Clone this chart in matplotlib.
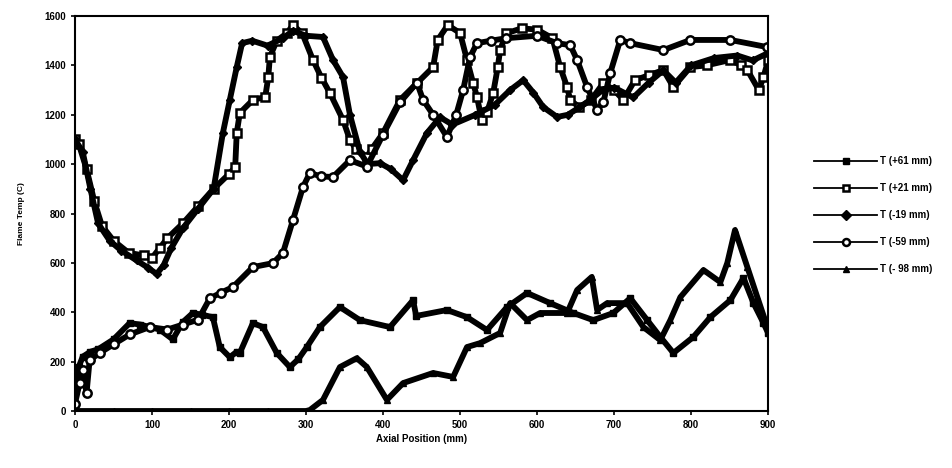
import matplotlib
matplotlib.use("Agg")
import matplotlib.pyplot as plt

plt.rcParams['font.family'] = ['Liberation Sans', 'DejaVu Sans']
plt.rcParams['font.weight'] = 'bold'

# T (+61 mm), filled squares
x_p61 = [0, 5, 10, 20, 30, 50, 71, 85, 97, 110, 127, 140, 153, 165, 179, 188, 201, 210, 214,
         231, 244, 262, 279, 290, 301, 318, 344, 370, 409, 439, 443, 483, 509, 535, 561, 587,
         617, 647, 673, 699, 721, 743, 760, 777, 803, 825, 851, 868, 881, 894, 900]
y_p61 = [100, 180, 220, 240, 250, 290, 356, 350, 340, 330, 290, 360, 397, 390, 380, 259, 218, 240, 235,
         356, 340, 235, 178, 210, 259, 340, 421, 368, 340, 449, 385, 409, 380, 328, 421, 478,
         437, 397, 368, 397, 457, 368, 300, 235, 300, 380, 449, 539, 437, 356, 316]

# T (+21 mm), open squares
x_p21 = [0, 5, 15, 25, 35, 50, 70, 90, 100, 110, 120, 140, 160, 180, 200, 208, 210, 214, 231, 247,
         251, 253, 262, 275, 283, 295, 309, 320, 331, 348, 357, 365, 379, 385, 400, 422, 444, 465,
         471, 484, 500, 509, 517, 522, 528, 535, 543, 549, 552, 560, 580, 600, 620, 630, 639, 643,
         655, 670, 686, 700, 712, 727, 745, 764, 777, 799, 820, 851, 865, 873, 888, 894, 900]
y_p21 = [1100, 1080, 980, 850, 750, 690, 640, 630, 620, 660, 700, 760, 830, 900, 960, 988, 1126, 1207, 1260, 1272,
         1353, 1434, 1500, 1530, 1563, 1530, 1422, 1350, 1288, 1179, 1098, 1060, 1029, 1060, 1126, 1260, 1328, 1393,
         1503, 1563, 1531, 1422, 1328, 1272, 1180, 1210, 1288, 1393, 1462, 1530, 1550, 1545, 1510, 1393, 1312, 1260,
         1230, 1260, 1328, 1300, 1260, 1340, 1360, 1381, 1312, 1393, 1400, 1422, 1400, 1381, 1300, 1353, 1420]

# T (-19 mm), filled diamonds
x_m19 = [0, 10, 20, 30, 45, 60, 80, 95, 106, 115, 125, 140, 160, 180, 192, 201, 210, 217, 230, 250,
         270, 283, 300, 322, 335, 348, 357, 370, 380, 396, 410, 426, 439, 457, 474, 490, 520, 545,
         565, 582, 595, 608, 626, 640, 655, 669, 685, 700, 725, 745, 764, 780, 800, 830, 860, 880, 900]
y_m19 = [1100, 1050, 900, 760, 690, 650, 610, 580, 555, 590, 660, 740, 820, 900, 1126, 1260, 1393, 1490, 1500, 1480,
         1510, 1540, 1520, 1515, 1422, 1353, 1200, 1050, 1000, 1004, 980, 935, 1016, 1126, 1190, 1160, 1200, 1240,
         1300, 1340, 1290, 1231, 1191, 1200, 1230, 1260, 1300, 1310, 1270, 1330, 1380, 1330, 1400, 1430, 1440, 1420, 1450]

# T (-59 mm), open circles
x_m59 = [0, 6, 10, 15, 19, 32, 50, 71, 97, 120, 140, 160, 175, 190, 205, 231, 257, 270, 283, 296,
         305, 320, 335, 357, 379, 400, 422, 444, 452, 465, 483, 495, 504, 513, 522, 540, 560, 600,
         626, 643, 652, 665, 678, 686, 695, 708, 721, 764, 799, 851, 899]
y_m59 = [30, 113, 166, 73, 206, 235, 270, 310, 340, 330, 350, 370, 456, 480, 502, 583, 599, 640, 773, 907,
         964, 950, 948, 1016, 990, 1120, 1250, 1330, 1260, 1200, 1110, 1200, 1300, 1434, 1490, 1500, 1510, 1520,
         1490, 1482, 1422, 1312, 1219, 1250, 1369, 1503, 1490, 1462, 1503, 1503, 1474]

# T (-98 mm), filled triangles
x_m98 = [0, 50, 100, 150, 200, 250, 300, 305, 322, 344, 366, 379, 405, 426, 465, 491, 509, 526, 552,
         565, 587, 604, 639, 652, 671, 678, 691, 717, 738, 760, 773, 786, 816, 838, 847, 857, 873, 886, 899]
y_m98 = [0, 0, 0, 0, 0, 0, 0, 4, 45, 178, 214, 178, 45, 113, 154, 138, 259, 275, 316,
         437, 368, 397, 397, 490, 543, 409, 437, 437, 340, 287, 368, 461, 571, 522, 600, 733, 583, 461, 340]

series = [
    (x_p61, y_p61, "T (+61 mm)", dict(marker="s", mfc="black", ms=5)),
    (x_p21, y_p21, "T (+21 mm)", dict(marker="s", mfc="white", ms=6, mew=1.8)),
    (x_m19, y_m19, "T (-19 mm)", dict(marker="D", mfc="black", ms=4)),
    (x_m59, y_m59, "T (-59 mm)", dict(marker="o", mfc="white", ms=6, mew=1.8)),
    (x_m98, y_m98, "T (- 98 mm)", dict(marker="^", mfc="black", ms=5)),
]

fig = plt.figure(figsize=(9.53, 4.68), dpi=100)
ax = fig.add_axes([0.0787, 0.1218, 0.7273, 0.844])

for xs, ys, lab, st in series:
    ax.plot(xs, ys, color="black", lw=4.2, mec="black", label=lab, solid_joinstyle="round", **st)

ax.set_xlim(0, 900)
ax.set_ylim(0, 1600)
ax.set_xticks(range(0, 901, 100))
ax.set_yticks(range(0, 1601, 200))
ax.tick_params(labelsize=7, length=3, width=1.2, color="black")
for lbl in ax.get_xticklabels() + ax.get_yticklabels():
    lbl.set_fontweight("bold")
for sp in ax.spines.values():
    sp.set_linewidth(1.5)

ax.set_xlabel("Axial Position (mm)", fontsize=7, fontweight="bold", labelpad=3)
ax.set_ylabel("Flame Temp (C)", fontsize=6, fontweight="bold", labelpad=14)

handles, labels = ax.get_legend_handles_labels()
leg = fig.legend(handles, labels, loc="upper left", bbox_to_anchor=(0.845, 0.685), frameon=False,
                 fontsize=7, handlelength=6.5, labelspacing=1.75, handletextpad=0.3)
for h in leg.legend_handles:
    h.set_linewidth(1.3)
    h.set_markersize(5)
for t in leg.get_texts():
    t.set_fontweight("bold")

fig.savefig("out.png", dpi=100)
